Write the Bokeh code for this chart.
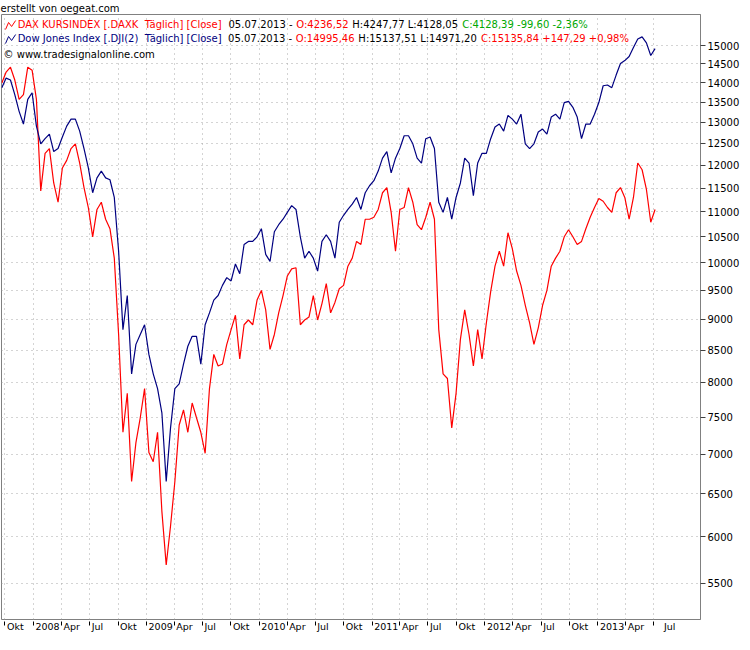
import pandas as pd
from bokeh.plotting import figure
from bokeh.models import FixedTicker, NumeralTickFormatter, Label, Arrow, Range1d
from bokeh.embed import file_html
from bokeh.resources import INLINE

# ---------------- data ----------------
dates = pd.date_range("2007-09-21", periods=152, freq="14D")

dow = [13870, 14120, 14070, 13690, 13270, 12960, 13570, 13740, 12910, 12490,
       12610, 12720, 12310, 12380, 12650, 12910, 13080, 13080, 12790, 12380,
       11940, 11400, 11720, 11870, 11720, 11680, 11300, 10220, 8830, 9410,
       8130, 8590, 8750, 8910, 8430, 8130, 7910, 7560, 6650, 7350,
       7910, 7980, 8280, 8560, 8720, 8720, 8280, 8910, 9110, 9330,
       9410, 9590, 9730, 9670, 9980, 9800, 10350, 10410, 10410, 10500,
       10660, 10160, 10030, 10600, 10740, 10850, 10990, 11130, 11050, 10500,
       10090, 10220, 10090, 9850, 10410, 10540, 10410, 10090, 10790, 10930,
       11050, 11160, 11300, 11050, 11400, 11550, 11660, 11870, 12160, 12310,
       11830, 12160, 12380, 12680, 12680, 12490, 12160, 12050, 12610, 12650,
       12380, 11200, 10990, 11300, 10850, 11300, 11610, 12160, 12050, 11340,
       12050, 12270, 12270, 12610, 12890, 12960, 12790, 13170, 13080, 12960,
       13200, 12490, 12380, 12490, 12770, 12840, 12720, 13130, 13200, 13080,
       13490, 13520, 13370, 13130, 12610, 12960, 12960, 13200, 13490, 13920,
       13940, 13870, 14200, 14510, 14590, 14700, 14950, 15190, 15250, 15080,
       14730, 14920]

dax = [13990, 14280, 14410, 14070, 13570, 13690, 14410, 14330, 13570, 11440,
       12270, 12380, 11610, 11200, 11940, 12110, 12380, 12490, 12050, 11510,
       11090, 10500, 11050, 11200, 10850, 10660, 10090, 8750, 7290, 7840,
       6650, 7150, 7490, 7910, 7020, 6900, 7290, 6290, 5690, 6120,
       6650, 7390, 7600, 7290, 7700, 7490, 7290, 7010, 7910, 8430,
       8250, 8280, 8590, 8830, 9070, 8360, 8910, 8990, 8910, 9330,
       9500, 9160, 8510, 8750, 9110, 9410, 9760, 9890, 9910, 8910,
       8990, 9040, 9410, 8990, 9270, 9620, 9110, 9290, 9530, 9590,
       9940, 10090, 10410, 10350, 10850, 10850, 10890, 11050, 11400, 11510,
       10990, 10220, 11050, 11090, 11510, 11200, 10740, 10640, 10890, 11200,
       10850, 8830, 8130, 8060, 7350, 7840, 8670, 9160, 8750, 8250,
       8830, 8360, 8940, 9480, 9940, 10220, 9940, 10580, 10270, 9850,
       9590, 9240, 8940, 8590, 8860, 9240, 9500, 9940, 10090, 10220,
       10500, 10640, 10500, 10350, 10410, 10660, 10890, 11090, 11280, 11220,
       11090, 10990, 11400, 11510, 11300, 10850, 11300, 12050, 11900, 11470,
       10790, 11050]

y_ticks = [5500, 6000, 6500, 7000, 7500, 8000, 8500, 9000, 9500, 10000,
           10500, 11000, 11500, 12000, 12500, 13000, 13500, 14000, 14500, 15000]

quarter_dates = ["2007-10-01", "2008-01-01", "2008-04-01", "2008-07-01",
                 "2008-10-01", "2009-01-01", "2009-04-01", "2009-07-01",
                 "2009-10-01", "2010-01-01", "2010-04-01", "2010-07-01",
                 "2010-10-01", "2011-01-01", "2011-04-01", "2011-07-01",
                 "2011-10-01", "2012-01-01", "2012-04-01", "2012-07-01",
                 "2012-10-01", "2013-01-01", "2013-04-01", "2013-07-01"]
quarter_labels = ["Okt", "2008", "Apr", "Jul", "Okt", "2009", "Apr", "Jul",
                  "Okt", "2010", "Apr", "Jul", "Okt", "2011", "Apr", "Jul",
                  "Okt", "2012", "Apr", "Jul", "Okt", "2013", "Apr", "Jul"]

# ---------------- layout ----------------
W, H = 742, 634
FONT = "DejaVu Sans"
FS_PX = 10
FS = "%dpx" % FS_PX
XFS_PX = 9.5
XFS = "9.5px"
Y_TOP, Y_BOT = 15900, 5140
FW_EST, FH_EST = 692, 605

CW = {"A": .684, "B": .686, "C": .698, "D": .770, "E": .632, "F": .575, "G": .775,
      "H": .752, "I": .295, "J": .295, "K": .656, "L": .557, "M": .863, "N": .748,
      "O": .787, "P": .603, "R": .695, "S": .635, "T": .611, "U": .732, "X": .685,
      "a": .613, "c": .550, "d": .635, "e": .615, "g": .635, "h": .634, "i": .278,
      "k": .579, "l": .278, "n": .634, "o": .612, "p": .635, "r": .411, "s": .521,
      "t": .392, "u": .634, "w": .818, "x": .592, "ä": .613,
      " ": .318, "\u00a0": .318, ".": .318, ",": .318, ":": .337, "-": .361,
      "+": .838, "%": .950, "[": .390, "]": .390, "(": .390, ")": .390}


def text_w(s, size=FS_PX):
    return sum(CW.get(c, .636) for c in s) * size


def ms(t):
    return int(pd.Timestamp(t).value // 10**6)


x0, x1 = ms("2007-09-20"), ms("2013-11-29")
ms_per_px = (x1 - x0) / FW_EST

p = figure(width=W, height=H, x_axis_type="datetime", y_axis_type="log",
           y_axis_location="right", title="erstellt von oegeat.com",
           x_range=Range1d(x0, x1), y_range=Range1d(Y_BOT, Y_TOP),
           output_backend="svg", toolbar_location=None,
           min_border_left=1, min_border_right=39,
           min_border_top=0, min_border_bottom=0)
p.background_fill_color = "white"
p.border_fill_color = "white"
p.outline_line_color = "#808080"

p.title.text_font = FONT
p.title.text_font_size = FS
p.title.text_font_style = "normal"
p.title.text_color = "#000000"
p.title.align = "left"
p.title.offset = -1
p.title.standoff = 1

# grid
q_ms = [ms(d) for d in quarter_dates]
p.xgrid.ticker = FixedTicker(ticks=q_ms)
p.ygrid.ticker = FixedTicker(ticks=y_ticks)
for g in (p.xgrid, p.ygrid):
    g.grid_line_color = "#a8a8a8"
    g.grid_line_dash = "1 4"
    g.grid_line_width = 1

# series
p.line(dates, dax, line_color="#ff0000", line_width=1.2)
p.line(dates, dow, line_color="#000080", line_width=1.2)

# x axis: small marks at the quarter starts, labels just to their right
centers = []
for i, (m, lab) in enumerate(zip(q_ms, quarter_labels)):
    off = 2 + text_w(lab, XFS_PX) / 2
    if i == len(q_ms) - 1:
        off += 8
    centers.append(int(m + off * ms_per_px))
p.xaxis.ticker = FixedTicker(ticks=centers, minor_ticks=q_ms)
p.xaxis.major_label_overrides = dict(zip(centers, quarter_labels))
p.xaxis.major_tick_line_color = None
p.xaxis.major_tick_out = 0
p.xaxis.major_tick_in = 0
p.xaxis.minor_tick_line_color = "#000000"
p.xaxis.minor_tick_in = -2
p.xaxis.minor_tick_out = 6
p.xaxis.axis_line_color = None
p.xaxis.major_label_standoff = -5
p.xaxis.major_label_text_font = FONT
p.xaxis.major_label_text_font_size = XFS
p.xaxis.major_label_text_color = "#000000"

# y axis on the right
p.yaxis.ticker = FixedTicker(ticks=y_ticks)
p.yaxis.formatter = NumeralTickFormatter(format="0")
p.yaxis.minor_tick_line_color = None
p.yaxis.major_tick_out = 5
p.yaxis.major_tick_in = 0
p.yaxis.major_tick_line_color = "#404040"
p.yaxis.axis_line_color = "#808080"
p.yaxis.major_label_standoff = 2
p.yaxis.major_label_text_font = FONT
p.yaxis.major_label_text_font_size = FS
p.yaxis.major_label_text_color = "#000000"

for ax in (p.xaxis, p.yaxis):
    ax.axis_label = None
    ax.axis_label_standoff = 0


# ---------------- header texts ----------------
def xv(px):
    return x0 + px * ms_per_px


def yv(d):
    return Y_TOP * (Y_BOT / Y_TOP) ** (d / FH_EST)


def txt(px, d, text, color="#000000"):
    p.add_layout(Label(x=xv(px), y=yv(d), text=text, text_color=color,
                       text_font=FONT, text_font_size=FS,
                       text_baseline="middle", text_align="left"))


def icon(d, color):
    pts = [(4, d + 5), (7, d - 2), (10, d + 2), (14, d - 4)]
    for (xa, ya), (xb, yb) in zip(pts[:-1], pts[1:]):
        p.add_layout(Arrow(end=None, x_start=xv(xa), y_start=yv(ya),
                           x_end=xv(xb), y_end=yv(yb),
                           line_color=color, line_width=1))


def line_of(d, segs):
    x = None
    for (text, color, ref_x) in segs:
        pos = ref_x if x is None else max(ref_x, x)
        txt(pos, d, text, color)
        x = pos + text_w(text) + 3


RED, NAVY, GREEN, BLACK = "#ff0000", "#000080", "#00a800", "#000000"

txt(FW_EST + 3, 7, "XXP")

icon(10, RED)
line_of(10, [("DAX KURSINDEX [.DAXK \u00a0Täglich] [Close]", RED, 16),
             ("05.07.2013 -", BLACK, 216),
             ("O:4236,52", RED, 282),
             ("H:4247,77 L:4128,05", BLACK, 337),
             ("C:4128,39 -99,60 -2,36%", GREEN, 442)])

icon(24, NAVY)
line_of(24, [("Dow Jones Index [.DJI(2) \u00a0Täglich] [Close]", NAVY, 16),
             ("05.07.2013 -", BLACK, 223),
             ("O:14995,46", RED, 288),
             ("H:15137,51 L:14971,20", BLACK, 338),
             ("C:15135,84 +147,29 +0,98%", RED, 467)])

txt(2, 40, "© www.tradesignalonline.com")

open("out.html", "w").write(file_html(p, INLINE))
